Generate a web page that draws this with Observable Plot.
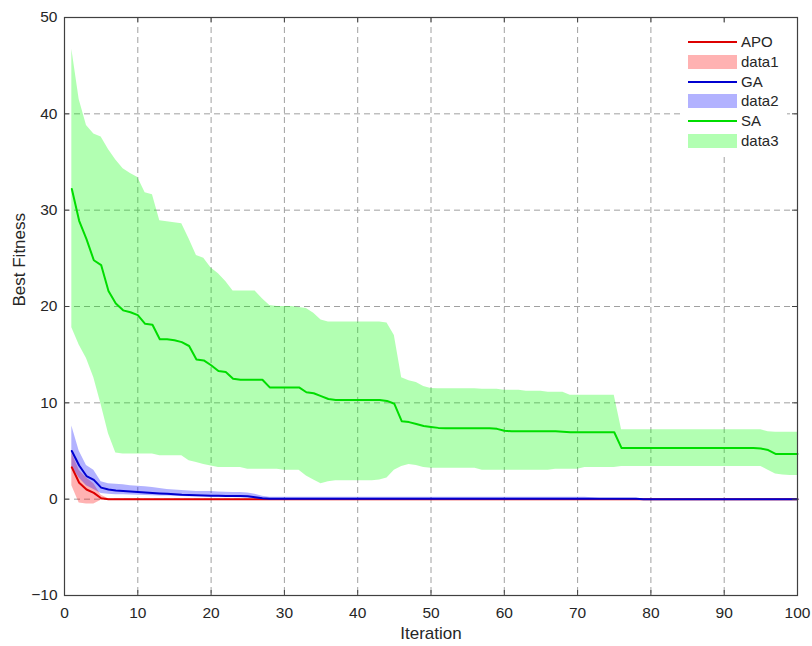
<!DOCTYPE html>
<html>
<head>
<meta charset="utf-8">
<script src="https://cdn.jsdelivr.net/npm/d3@7"></script>
<script src="https://cdn.jsdelivr.net/npm/@observablehq/plot@0.6"></script>
<style>
  body { margin: 0; background: #fff; }
  #wrap { position: relative; width: 812px; height: 646px; font-family: "Liberation Sans", Arial, Helvetica, sans-serif; color: #262626; }
  #legend { position: absolute; left: 680px; top: 27px; width: 107px; height: 130px; background: #fff; }
  .lrow { position: absolute; left: 0; height: 20px; width: 107px; }
  .lsym { position: absolute; left: 8px; width: 49px; }
  .ltxt { position: absolute; left: 61px; top: 0; line-height: 20px; font-size: 15px; color: #262626; }
</style>
</head>
<body>
<div id="wrap"><div id="legend"></div></div>
<script>
// ---- data ----
const iterations = d3.range(1, 101);
const xTicks = [0, 10, 20, 30, 40, 50, 60, 70, 80, 90, 100];
const yTicks = [-10, 0, 10, 20, 30, 40, 50];
const xLabel = "Iteration";
const yLabel = "Best Fitness";
const seriesNames = ["APO", "GA", "SA"];
const bandNames = ["data1", "data2", "data3"];

const apoMean = [3.3,1.7,1.0,0.65,0.1,0,0,0,0,0,
  0,0,0,0,0,0,0,0,0,0, 0,0,0,0,0,0,0,0,0,0,
  0,0,0,0,0,0,0,0,0,0, 0,0,0,0,0,0,0,0,0,0,
  0,0,0,0,0,0,0,0,0,0, 0,0,0,0,0,0,0,0,0,0,
  0,0,0,0,0,0,0,0,0,0, 0,0,0,0,0,0,0,0,0,0,
  0,0,0,0,0,0,0,0,0,0];
const apoHi = [4.8,3.0,2.2,1.6,0.4,0.05,0.05,0.05,0.05,0.05,
  0,0,0,0,0,0,0,0,0,0, 0,0,0,0,0,0,0,0,0,0,
  0,0,0,0,0,0,0,0,0,0, 0,0,0,0,0,0,0,0,0,0,
  0,0,0,0,0,0,0,0,0,0, 0,0,0,0,0,0,0,0,0,0,
  0,0,0,0,0,0,0,0,0,0, 0,0,0,0,0,0,0,0,0,0,
  0,0,0,0,0,0,0,0,0,0];
const apoLo = [1.4,-0.4,-0.5,-0.5,-0.1,0,0,0,0,0,
  0,0,0,0,0,0,0,0,0,0, 0,0,0,0,0,0,0,0,0,0,
  0,0,0,0,0,0,0,0,0,0, 0,0,0,0,0,0,0,0,0,0,
  0,0,0,0,0,0,0,0,0,0, 0,0,0,0,0,0,0,0,0,0,
  0,0,0,0,0,0,0,0,0,0, 0,0,0,0,0,0,0,0,0,0,
  0,0,0,0,0,0,0,0,0,0];

const gaMean = [5.0,3.5,2.4,2.0,1.2,1.0,0.9,0.85,0.8,0.75,
  0.7,0.65,0.6,0.55,0.5,0.45,0.42,0.4,0.38,0.36,
  0.35,0.34,0.33,0.32,0.3,0.2,0.1,0.05,0.05,0.05,
  0.05,0.05,0.05,0.05,0.05,0.05,0.05,0.05,0.05,0.05,
  0.05,0.05,0.05,0.05,0.05,0.05,0.05,0.05,0.05,0.05,
  0.05,0.05,0.05,0.05,0.05,0.05,0.05,0.05,0.05,0.05,
  0.05,0.05,0.05,0.05,0.05,0.05,0.05,0.05,0.05,0.05,
  0.05,0.05,0.05,0.05,0.05,0.05,0.05,0.05,0,0,
  0,0,0,0,0,0,0,0,0,0, 0,0,0,0,0,0,0,0,0,0];
const gaHi = [7.6,5.0,3.5,3.0,1.8,1.6,1.55,1.5,1.4,1.35,
  1.3,1.2,1.1,1.0,0.95,0.9,0.85,0.8,0.8,0.8,
  0.75,0.72,0.7,0.68,0.65,0.5,0.3,0.2,0.2,0.2,
  0.2,0.2,0.2,0.2,0.2,0.2,0.2,0.2,0.2,0.2,
  0.2,0.2,0.2,0.2,0.2,0.2,0.2,0.2,0.2,0.2,
  0.2,0.2,0.2,0.2,0.2,0.2,0.2,0.2,0.2,0.2,
  0.2,0.2,0.2,0.2,0.2,0.2,0.2,0.2,0.2,0.2,
  0.2,0.15,0.1,0.1,0.1,0.1,0.1,0.1,0,0,
  0,0,0,0,0,0,0,0,0,0, 0,0,0,0,0,0,0,0,0,0];
const gaLo = [3.4,2.2,1.4,1.0,0.6,0.5,0.45,0.45,0.42,0.4,
  0.38,0.36,0.34,0.32,0.3,0.28,0.26,0.25,0.24,0.22,
  0.2,0.2,0.18,0.16,0.12,0.05,0,0,0,0,
  0,0,0,0,0,0,0,0,0,0, 0,0,0,0,0,0,0,0,0,0,
  0,0,0,0,0,0,0,0,0,0, 0,0,0,0,0,0,0,0,0,0,
  0,0,0,0,0,0,0,0,0,0, 0,0,0,0,0,0,0,0,0,0,
  0,0,0,0,0,0,0,0,0,0];

const saMean = [32.2,28.9,27.0,24.8,24.3,21.6,20.3,19.6,19.4,19.1,
  18.2,18.1,16.6,16.6,16.5,16.3,15.9,14.5,14.4,13.9,
  13.3,13.2,12.5,12.4,12.4,12.4,12.4,11.6,11.6,11.6,
  11.6,11.6,11.1,11.0,10.7,10.4,10.3,10.3,10.3,10.3,
  10.3,10.3,10.3,10.2,9.9,8.1,8.0,7.8,7.6,7.5,
  7.4,7.35,7.35,7.35,7.35,7.35,7.35,7.35,7.3,7.1,
  7.05,7.05,7.05,7.05,7.05,7.05,7.05,7.0,6.95,6.95,
  6.95,6.95,6.95,6.95,6.95,5.3,5.3,5.3,5.3,5.3,
  5.3,5.3,5.3,5.3,5.3,5.3,5.3,5.3,5.3,5.3,
  5.3,5.3,5.3,5.3,5.25,5.1,4.7,4.7,4.7,4.7];
const saHi = [46.7,41.5,38.8,37.9,37.6,36.3,35.2,34.3,33.8,33.4,
  31.8,31.6,28.9,28.8,28.7,28.6,27.0,25.3,25.0,24.0,
  23.4,22.6,21.6,21.6,21.6,21.6,20.8,20.1,20.0,20.0,
  20.0,19.9,19.8,19.3,18.6,18.4,18.4,18.4,18.4,18.4,
  18.4,18.4,18.4,18.3,17.0,12.6,12.3,12.1,11.7,11.5,
  11.45,11.45,11.45,11.45,11.45,11.45,11.4,11.4,11.4,11.3,
  11.3,11.3,11.2,11.2,11.2,11.1,11.1,11.1,10.8,10.8,
  10.8,10.8,10.8,10.8,10.8,7.2,7.2,7.2,7.2,7.2,
  7.2,7.2,7.2,7.2,7.2,7.2,7.2,7.2,7.2,7.2,
  7.2,7.2,7.2,7.2,7.2,7.0,6.95,6.95,6.95,6.95];
const saLo = [17.8,16.0,14.6,12.6,9.8,6.8,4.8,4.7,4.7,4.7,
  4.7,4.7,4.5,4.5,4.5,4.5,4.0,3.8,3.6,3.45,
  3.3,3.3,3.3,3.3,3.1,3.1,3.1,3.1,3.1,3.0,
  3.0,3.0,2.4,2.0,1.6,1.8,1.9,1.9,1.9,1.9,
  1.9,1.9,2.0,2.2,3.0,3.4,3.6,3.5,3.3,3.2,
  3.2,3.2,3.2,3.2,3.2,3.2,3.0,3.0,3.0,3.0,
  3.0,3.0,3.0,3.0,3.0,3.0,3.1,3.1,3.1,3.1,
  3.3,3.3,3.3,3.3,3.3,3.4,3.4,3.4,3.4,3.4,
  3.4,3.4,3.4,3.4,3.4,3.4,3.4,3.4,3.4,3.4,
  3.4,3.4,3.4,3.4,3.4,3.0,2.6,2.5,2.45,2.45];

// ---- styles ----
const lineColors = ["#dd0000", "#0000d0", "#00dd00"];
const bandColors = ["#ff0000", "#0000ff", "#00ff00"];

function table(mean, lo, hi) {
  return iterations.map((it, i) => ({ it, mean: mean[i], lo: lo[i], hi: hi[i] }));
}
const tables = [table(apoMean, apoLo, apoHi), table(gaMean, gaLo, gaHi), table(saMean, saLo, saHi)];

const gridStyle = { stroke: "#a0a0a0", strokeOpacity: 1, strokeWidth: 1, strokeDasharray: "6,4" };
const axisStroke = "#404040";
const innerX = xTicks.slice(1, -1);
const innerY = yTicks.slice(1, -1);

const chart = Plot.plot({
  width: 812,
  height: 646,
  marginLeft: 64,
  marginRight: 15,
  marginTop: 17,
  marginBottom: 51,
  style: { fontFamily: "'Liberation Sans', Arial, Helvetica, sans-serif", fontSize: "15.5px", color: "#262626", background: "#fff" },
  x: { domain: [0, 100] },
  y: { domain: [-10, 50] },
  marks: [
    Plot.gridX(innerX, gridStyle),
    Plot.gridY(innerY, gridStyle),
    ...tables.map((t, k) => Plot.areaY(t, { x: "it", y1: "lo", y2: "hi", fill: bandColors[k], fillOpacity: 0.3 })),
    ...tables.map((t, k) => Plot.lineY(t, { x: "it", y: "mean", stroke: lineColors[k], strokeWidth: 2 })),
    Plot.tickX(innerX, { x: d => d, insetTop: 573, stroke: axisStroke }),
    Plot.tickX(innerX, { x: d => d, insetBottom: 573, stroke: axisStroke }),
    Plot.tickY(innerY, { y: d => d, insetRight: 728, stroke: axisStroke }),
    Plot.tickY(innerY, { y: d => d, insetLeft: 728, stroke: axisStroke }),
    Plot.frame({ stroke: axisStroke, strokeWidth: 1.2 }),
    Plot.axisX(xTicks, { tickSize: 0, tickPadding: 11, label: null }),
    Plot.axisY(yTicks, { tickSize: 0, tickPadding: 7, label: null }),
    Plot.text([xLabel], { text: d => d, frameAnchor: "bottom", dy: 43, fontSize: 17, fill: "#262626" }),
    Plot.text([yLabel], { text: d => d, frameAnchor: "left", rotate: -90, dx: -45, fontSize: 17, fill: "#262626" })
  ]
});
document.getElementById("wrap").prepend(chart);

// ---- legend ----
const legend = document.getElementById("legend");
const legendItems = [];
seriesNames.forEach((s, k) => {
  legendItems.push({ name: s, type: "line", color: lineColors[k] });
  legendItems.push({ name: bandNames[k], type: "band", color: bandColors[k] });
});
legendItems.forEach((item, i) => {
  const row = document.createElement("div");
  row.className = "lrow";
  row.style.top = (5.3 + i * 19.7) + "px";
  const sym = document.createElement("div");
  sym.className = "lsym";
  if (item.type === "line") {
    sym.style.top = "9px"; sym.style.height = "2px"; sym.style.background = item.color;
  } else {
    sym.style.top = "3px"; sym.style.height = "14px"; sym.style.background = item.color; sym.style.opacity = "0.3";
  }
  const txt = document.createElement("div");
  txt.className = "ltxt";
  txt.textContent = item.name;
  row.appendChild(sym);
  row.appendChild(txt);
  legend.appendChild(row);
});
</script>
</body>
</html>
